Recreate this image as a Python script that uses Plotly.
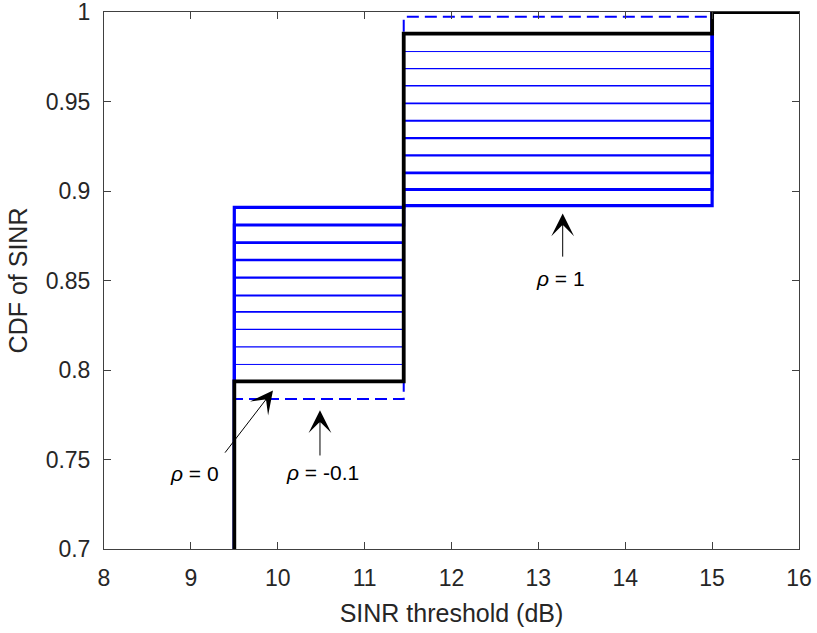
import plotly.graph_objects as go

# ---- data ----
step_x = [8, 9.5, 11.45, 15, 16]          # threshold breakpoints (dB)
rho_lines = [0.1, 0.2, 0.3, 0.4, 0.5, 0.6, 0.7, 0.8, 0.9, 1.0]
cdf_seg1 = [0.8031, 0.8129, 0.8227, 0.8325, 0.8416, 0.8516, 0.8614, 0.8712, 0.8810, 0.8908]
cdf_seg2 = [0.9779, 0.9684, 0.9588, 0.9490, 0.9393, 0.9296, 0.9199, 0.9101, 0.9008, 0.8918]
rho0_cdf = [0.0, 0.7936, 0.9879, 1.0, 1.0]
rhom01_cdf = [0.0, 0.7838, 0.9973, 1.0, 1.0]

x_ticks = [8, 9, 10, 11, 12, 13, 14, 15, 16]
y_ticks = [0.7, 0.75, 0.8, 0.85, 0.9, 0.95, 1.0]
y_ticktext = ["0.7", "0.75", "0.8", "0.85", "0.9", "0.95", "1"]

fig = go.Figure()

# dashed rho = -0.1
fig.add_trace(go.Scatter(x=step_x, y=rhom01_cdf, mode="lines", line_shape="hv",
                         line=dict(color="#0000FF", width=2, dash="12px,6px"),
                         showlegend=False, hoverinfo="skip"))

# rho = 0.1 .. 1
for i, r in enumerate(rho_lines):
    yv = [0.0, cdf_seg1[i], cdf_seg2[i], 1.0, 1.0]
    w = 1.0 + 2.2 * i / (len(rho_lines) - 1)
    fig.add_trace(go.Scatter(x=step_x, y=yv, mode="lines", line_shape="hv",
                             line=dict(color="#0000FF", width=w),
                             showlegend=False, hoverinfo="skip"))

# rho = 0 (black)
fig.add_trace(go.Scatter(x=step_x, y=rho0_cdf, mode="lines", line_shape="hv",
                         line=dict(color="#000000", width=3.8),
                         showlegend=False, hoverinfo="skip"))

font_fam = "Liberation Sans, Arial, Helvetica, sans-serif"

# arrows (tip, tail in data coords)
arrows = [
    (13.28, 0.8875, 13.28, 0.8625),
    (9.945, 0.7886, 9.38, 0.7530),
    (10.486, 0.7775, 10.486, 0.7514),
]
for (xt, yt, xs, ys) in arrows:
    fig.add_annotation(x=xt, y=yt, ax=xs, ay=ys, xref="x", yref="y", axref="x", ayref="y",
                       text="", showarrow=True, arrowhead=3, arrowsize=3.8, arrowwidth=1,
                       arrowcolor="#000000", standoff=0, startstandoff=0)

labels = [
    (13.25, 0.851, "<i>ρ</i> = 1"),
    (9.04, 0.742, "<i>ρ</i> = 0"),
    (10.51, 0.7425, "<i>ρ</i> = -0.1"),
]
for (xl, yl, t) in labels:
    fig.add_annotation(x=xl, y=yl, xref="x", yref="y", text=t, showarrow=False,
                       font=dict(family=font_fam, size=21, color="#000000"))

axis_common = dict(showgrid=False, zeroline=False, showline=True, linecolor="#404040",
                   linewidth=1, mirror="ticks", ticks="inside", ticklen=7,
                   tickcolor="#404040", tickwidth=1, ticklabeloverflow="allow",
                   tickfont=dict(family=font_fam, size=23, color="#262626"))

fig.update_xaxes(range=[8, 16], tickvals=x_ticks, ticklabelstandoff=8,
                 title=dict(text="SINR threshold (dB)", standoff=14,
                            font=dict(family=font_fam, size=25, color="#262626")),
                 **axis_common)
fig.update_yaxes(range=[0.7, 1.0], tickvals=y_ticks, ticktext=y_ticktext, ticklabelstandoff=8,
                 title=dict(text="CDF of SINR", standoff=10,
                            font=dict(family=font_fam, size=25, color="#262626")),
                 **axis_common)

fig.update_layout(width=817, height=633, margin=dict(l=104, r=18, t=12, b=84, autoexpand=False),
                  plot_bgcolor="white", paper_bgcolor="white", showlegend=False)

fig.write_html("out.html")
